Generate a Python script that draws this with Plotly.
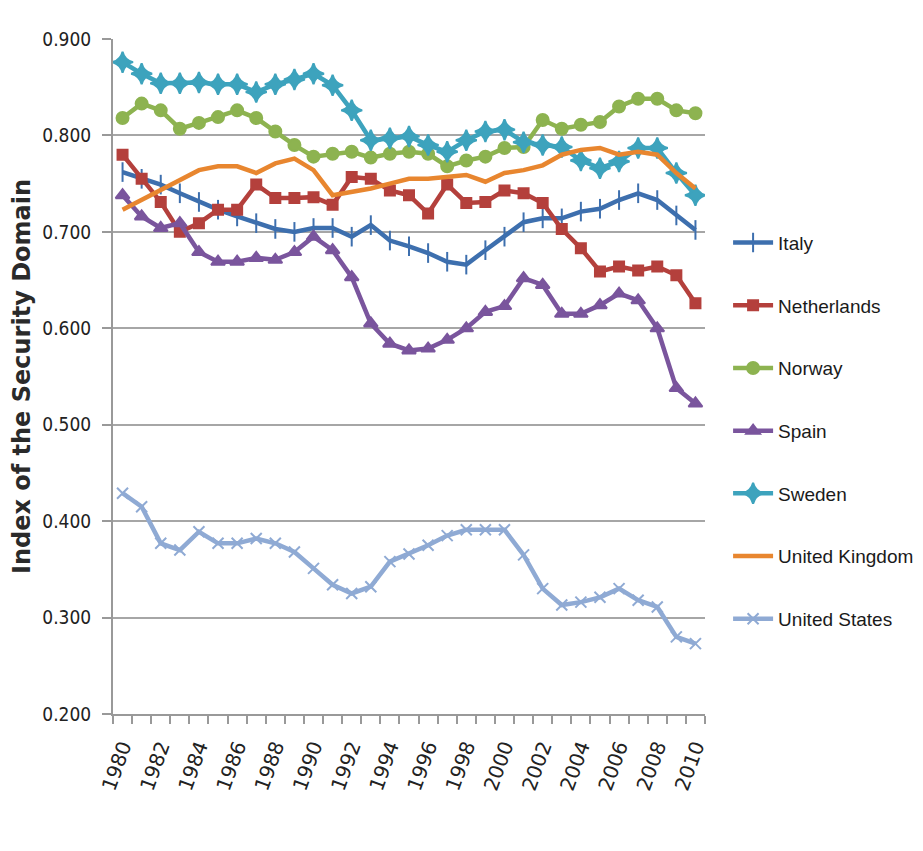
import plotly.graph_objects as go

years = list(range(1980, 2011))

italy = [0.762, 0.755, 0.749, 0.740, 0.731, 0.723, 0.716, 0.709, 0.703, 0.700,
         0.704, 0.704, 0.695, 0.707, 0.691, 0.685, 0.678, 0.669, 0.666, 0.681,
         0.695, 0.710, 0.714, 0.714, 0.721, 0.724, 0.733, 0.740, 0.733, 0.717, 0.702]
netherlands = [0.780, 0.755, 0.731, 0.700, 0.709, 0.723, 0.723, 0.749, 0.735, 0.735,
               0.736, 0.728, 0.757, 0.755, 0.743, 0.738, 0.719, 0.749, 0.730, 0.731,
               0.743, 0.740, 0.730, 0.703, 0.683, 0.659, 0.664, 0.660, 0.664, 0.655, 0.626]
norway = [0.818, 0.833, 0.826, 0.807, 0.813, 0.819, 0.826, 0.818, 0.804, 0.790,
          0.778, 0.781, 0.783, 0.777, 0.781, 0.783, 0.781, 0.768, 0.774, 0.778,
          0.787, 0.788, 0.816, 0.807, 0.811, 0.814, 0.830, 0.838, 0.838, 0.826, 0.823]
spain = [0.738, 0.716, 0.704, 0.709, 0.679, 0.669, 0.669, 0.673, 0.671, 0.679,
         0.695, 0.681, 0.653, 0.605, 0.584, 0.577, 0.579, 0.588, 0.600, 0.617,
         0.623, 0.652, 0.645, 0.615, 0.615, 0.624, 0.636, 0.629, 0.600, 0.538, 0.522]
sweden = [0.876, 0.864, 0.854, 0.854, 0.855, 0.853, 0.853, 0.845, 0.853, 0.858,
          0.864, 0.852, 0.826, 0.795, 0.797, 0.799, 0.790, 0.783, 0.795, 0.804,
          0.806, 0.793, 0.790, 0.788, 0.774, 0.766, 0.773, 0.787, 0.787, 0.761, 0.738]
united_kingdom = [0.723, 0.733, 0.743, 0.754, 0.764, 0.768, 0.768, 0.761, 0.771, 0.776,
                  0.764, 0.738, 0.741, 0.745, 0.750, 0.755, 0.755, 0.757, 0.759, 0.752,
                  0.761, 0.764, 0.769, 0.780, 0.785, 0.787, 0.780, 0.783, 0.780, 0.761, 0.745]
united_states = [0.429, 0.415, 0.377, 0.370, 0.389, 0.377, 0.377, 0.382, 0.377, 0.368,
                 0.351, 0.334, 0.325, 0.332, 0.358, 0.366, 0.375, 0.385, 0.391, 0.391,
                 0.391, 0.365, 0.330, 0.313, 0.316, 0.321, 0.330, 0.318, 0.311, 0.280, 0.273]

x_tick_labels = [str(y) for y in range(1980, 2011, 2)]
y_ticks = [0.2, 0.3, 0.4, 0.5, 0.6, 0.7, 0.8, 0.9]

series = [
    ("Italy", italy, "#3D6FAE", "line-ns-open", 14),
    ("Netherlands", netherlands, "#B4403C", "square", 10),
    ("Norway", norway, "#8DB350", "circle", 12),
    ("Spain", spain, "#7A559D", "triangle-up", 12),
    ("Sweden", sweden, "#3DA3BD", "star-diamond", 15),
    ("United Kingdom", united_kingdom, "#E8862F", None, 0),
    ("United States", united_states, "#8FAAD4", "x-thin-open", 11),
]

fig = go.Figure()
for name, vals, color, sym, size in series:
    if sym is None:
        mode = "lines"
        marker = dict()
    else:
        mode = "lines+markers"
        marker = dict(symbol=sym, size=size, color=color,
                      line=dict(color=color, width=2))
    fig.add_trace(go.Scatter(
        x=years, y=vals, name=name, mode=mode,
        line=dict(color=color, width=4.5),
        marker=marker, legendgroup=name,
    ))

cond = "DejaVu Sans Condensed, Liberation Sans, sans-serif"

fig.update_layout(
    width=923, height=851,
    margin=dict(l=105, r=226, t=31, b=145, autoexpand=False),
    paper_bgcolor="white", plot_bgcolor="white",
    showlegend=True,
    legend=dict(
        x=1.039, y=0.7264, xanchor="left", yanchor="top",
        font=dict(family="Liberation Sans, Arial, sans-serif", size=19, color="#1a1a1a"),
        tracegroupgap=35, itemwidth=40,
        bgcolor="rgba(0,0,0,0)",
    ),
    font=dict(family="Liberation Sans, Arial, sans-serif", color="#222"),
)

fig.update_xaxes(
    range=[1979.5, 2010.5],
    automargin=False,
    tickmode="array",
    tickvals=[int(t) for t in x_tick_labels],
    ticktext=x_tick_labels,
    tickangle=-70,
    ticks="",
    ticklabelstandoff=11,
    tickfont=dict(family="DejaVu Sans, sans-serif", size=20, color="#222"),
    showgrid=False,
    showline=True, linecolor="#999", linewidth=2,
    minor=dict(ticks="outside", tick0=1979.5, dtick=1, ticklen=8,
               tickcolor="#999", tickwidth=1.5, showgrid=False),
    zeroline=False,
)

fig.update_yaxes(
    range=[0.2, 0.9],
    automargin=False,
    tickmode="array",
    tickvals=y_ticks,
    ticktext=["%.3f" % v for v in y_ticks],
    tickfont=dict(family=cond, size=19, color="#222"),
    ticks="outside", ticklen=9, tickcolor="#999", tickwidth=2,
    ticklabelstandoff=7,
    showgrid=True, gridcolor="#a6a6a6", gridwidth=2,
    showline=True, linecolor="#999", linewidth=2,
    zeroline=False,
    title=dict(text="<b>Index of the Security Domain</b>",
               font=dict(family="DejaVu Sans, sans-serif", size=24, color="#2a2a2a"),
               standoff=14),
)

fig.write_html("out.html")
